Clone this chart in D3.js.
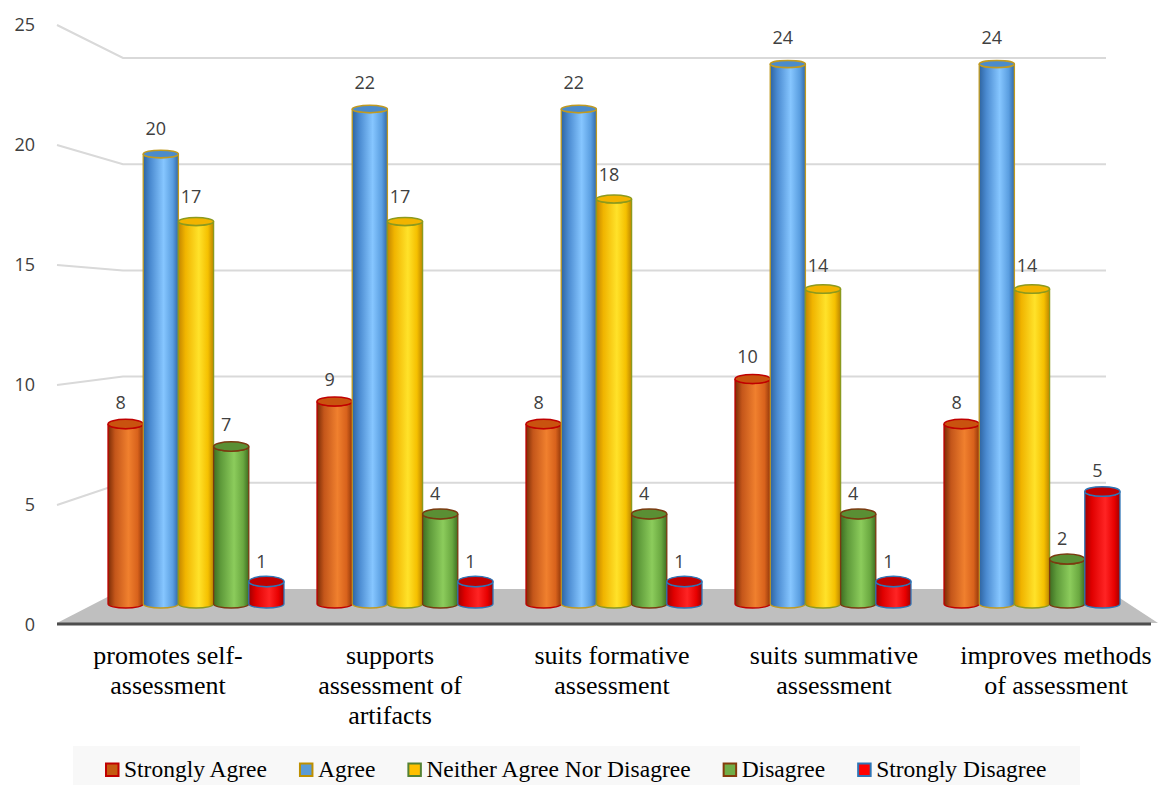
<!DOCTYPE html>
<html>
<head>
<meta charset="utf-8">
<script src="https://cdn.jsdelivr.net/npm/d3@7"></script>
</head>
<body style="margin:0;background:#ffffff">
<svg id="chart" width="1161" height="785"></svg>
<script>
// ---- data ----
const categories = [
  "promotes self-assessment",
  "supports assessment of artifacts",
  "suits formative assessment",
  "suits summative assessment",
  "improves methods of assessment"
];
const categoryLines = [
  ["promotes self-", "assessment"],
  ["supports", "assessment of", "artifacts"],
  ["suits formative", "assessment"],
  ["suits summative", "assessment"],
  ["improves methods", "of assessment"]
];
const seriesNames = ["Strongly Agree", "Agree", "Neither Agree Nor Disagree", "Disagree", "Strongly Disagree"];
const stronglyAgree    = [8, 9, 8, 10, 8];
const agree            = [20, 22, 22, 24, 24];
const neither          = [17, 17, 18, 14, 14];
const disagree         = [7, 4, 4, 4, 2];
const stronglyDisagree = [1, 1, 1, 1, 5];
const seriesValues = [stronglyAgree, agree, neither, disagree, stronglyDisagree];
const yTicks = [0, 5, 10, 15, 20, 25];

const SERIF = '"Times New Roman", Tinos, "Liberation Serif", serif';
const SANS = '"Open Sans"';

// ---- styles per series ----
const styles = [
  { stroke: "#c00000", top: "#c9530f", swatch: "#c55a11", swatchStroke: "#c00000",
    stops: ["#7a2c06", "#c4561a", "#f0802e", "#d8621c", "#93380a"] },
  { stroke: "#c09a20", top: "#4b8bcb", swatch: "#5b9bd5", swatchStroke: "#bf9000",
    stops: ["#2e64a0", "#4a8ad0", "#86c6ff", "#5a9ee0", "#3068a8"] },
  { stroke: "#8c9a1e", top: "#f2b400", swatch: "#ffc000", swatchStroke: "#548235",
    stops: ["#c48600", "#f0b400", "#ffe22a", "#f5c000", "#bc8600"] },
  { stroke: "#7a3a10", top: "#5a8f34", swatch: "#70ad47", swatchStroke: "#843c0c",
    stops: ["#3e6e22", "#5e9a3a", "#8ccc5c", "#6aa840", "#3e6e22"] },
  { stroke: "#2e75b6", top: "#c00000", swatch: "#ff0000", swatchStroke: "#2e75b6",
    stops: ["#a00000", "#e00000", "#ff2424", "#e80000", "#a00000"] }
];
const stopOffsets = [0, 0.2, 0.58, 0.84, 1];

const svg = d3.select("#chart");
const defs = svg.append("defs");
styles.forEach((s, i) => {
  const g = defs.append("linearGradient").attr("id", "cyl" + i)
    .attr("x1", "0%").attr("x2", "100%").attr("y1", "0%").attr("y2", "0%");
  s.stops.forEach((c, k) => g.append("stop").attr("offset", stopOffsets[k]).attr("stop-color", c));
});

// ---- scales: front plane, back wall and the bar plane between them ----
const yFront = d3.scaleLinear().domain([0, 25]).range([625, 25]);
const yBack  = d3.scaleLinear().domain([0, 25]).range([589, 58]);
const yBar   = d3.scaleLinear().domain([0, 25]).range([604, 41.5]);

const frontLeft = 57, frontRight = 1158, backLeft = 123, backRight = 1106;

const xBar = d3.scaleBand().domain(categories).range([91.5, 1136.5])
  .paddingInner(0.158).paddingOuter(0.079);
const xSeries = d3.scaleBand().domain(seriesNames).range([0, xBar.bandwidth()]).padding(0);
const xFront = d3.scaleBand().domain(categories).range([57, 1167]);

// ---- gridlines: left wall diagonal + back wall ----
const grid = svg.append("g").attr("stroke", "#d9d9d9").attr("stroke-width", 2).attr("fill", "none");
yTicks.filter(v => v > 0).forEach(v => {
  grid.append("path")
    .attr("d", `M${frontLeft},${yFront(v)} L${backLeft},${yBack(v)} L${backRight},${yBack(v)}`);
});

// ---- floor ----
svg.append("path")
  .attr("d", `M${frontLeft},${yFront(0) - 2} L${backLeft},${yBack(0)} L${backRight},${yBack(0)} L${frontRight},${yFront(0) - 2} Z`)
  .attr("fill", "#bfbfbf");
svg.append("line")
  .attr("x1", frontLeft).attr("x2", 1151)
  .attr("y1", yFront(0) - 1).attr("y2", yFront(0) - 1)
  .attr("stroke", "#4d4d4d").attr("stroke-width", 3);

// ---- y tick labels ----
const yAxis = svg.append("g").attr("transform", "translate(40,0)")
  .call(d3.axisLeft(yFront).tickValues(yTicks).tickSize(0).tickPadding(5));
yAxis.select(".domain").remove();
yAxis.selectAll("text")
  .style("font-family", SANS).style("font-size", "18px")
  .attr("fill", "#404040");

// ---- cylinders ----
function cylinderBody(cx, w, top, bot, ryTop, ryBot) {
  const l = cx - w / 2, r = cx + w / 2, rx = w / 2;
  return `M${l},${top} L${l},${bot} A${rx},${ryBot} 0 0 0 ${r},${bot} L${r},${top} A${rx},${ryTop} 0 0 1 ${l},${top} Z`;
}

const bars = [];
categories.forEach((c, ci) => {
  seriesNames.forEach((s, si) => {
    bars.push({ cat: c, ser: s, si, v: seriesValues[si][ci] });
  });
});

const barLayer = svg.append("g");
const w = xSeries.bandwidth();
bars.forEach(d => {
  const cx = xBar(d.cat) + xSeries(d.ser) + w / 2;
  const top = yBar(d.v), bot = yBar(0);
  const ryTop = 5.2 - d.v * 0.07, ryBot = 4;
  const st = styles[d.si];
  const g = barLayer.append("g");
  g.append("path")
    .attr("d", cylinderBody(cx, w, top, bot, ryTop, ryBot))
    .attr("fill", `url(#cyl${d.si})`)
    .attr("stroke", st.stroke).attr("stroke-width", 1.3);
  g.append("ellipse")
    .attr("cx", cx).attr("cy", top).attr("rx", w / 2).attr("ry", ryTop)
    .attr("fill", st.top).attr("stroke", st.stroke).attr("stroke-width", 1.5);
  d.cx = cx; d.top = top;
});

// ---- value labels ----
svg.append("g").selectAll("text").data(bars).join("text")
  .attr("x", d => d.cx - 5)
  .attr("y", d => d.top - (13 + 0.3 * d.v))
  .attr("text-anchor", "middle")
  .style("font-family", SANS).style("font-size", "18px")
  .attr("fill", "#404040")
  .text(d => d.v);

// ---- category labels (one text per line) ----
const xAxis = svg.append("g").attr("transform", "translate(0,640)")
  .call(d3.axisBottom(xFront).tickSize(0).tickFormat(""));
xAxis.select(".domain").remove();
xAxis.selectAll(".tick text").remove();
xAxis.selectAll(".tick").each(function (c) {
  const lines = categoryLines[categories.indexOf(c)];
  d3.select(this).selectAll("text.cat").data(lines).join("text")
    .attr("class", "cat")
    .attr("x", 0).attr("y", (ln, k) => 24 + k * 30)
    .attr("text-anchor", "middle")
    .attr("font-family", SERIF)
    .style("font-family", SERIF).style("font-size", "26px")
    .attr("fill", "#000000")
    .text(ln => ln);
});

// ---- legend ----
svg.append("rect").attr("x", 73).attr("y", 746).attr("width", 1007).attr("height", 45)
  .attr("fill", "#f8f8f8");
const legend = svg.append("g");
let lx = 106;
seriesNames.forEach((name, i) => {
  const st = styles[i];
  legend.append("rect").attr("x", lx).attr("y", 763.5).attr("width", 12.5).attr("height", 12.5)
    .attr("fill", st.swatch).attr("stroke", st.swatchStroke).attr("stroke-width", 2);
  const t = legend.append("text").attr("x", lx + 18).attr("y", 777)
    .attr("font-family", SERIF)
    .style("font-family", SERIF).style("font-size", "23.5px")
    .attr("fill", "#000000").text(name);
  lx += 18 + t.node().getComputedTextLength() + 33;
});
</script>
</body>
</html>
